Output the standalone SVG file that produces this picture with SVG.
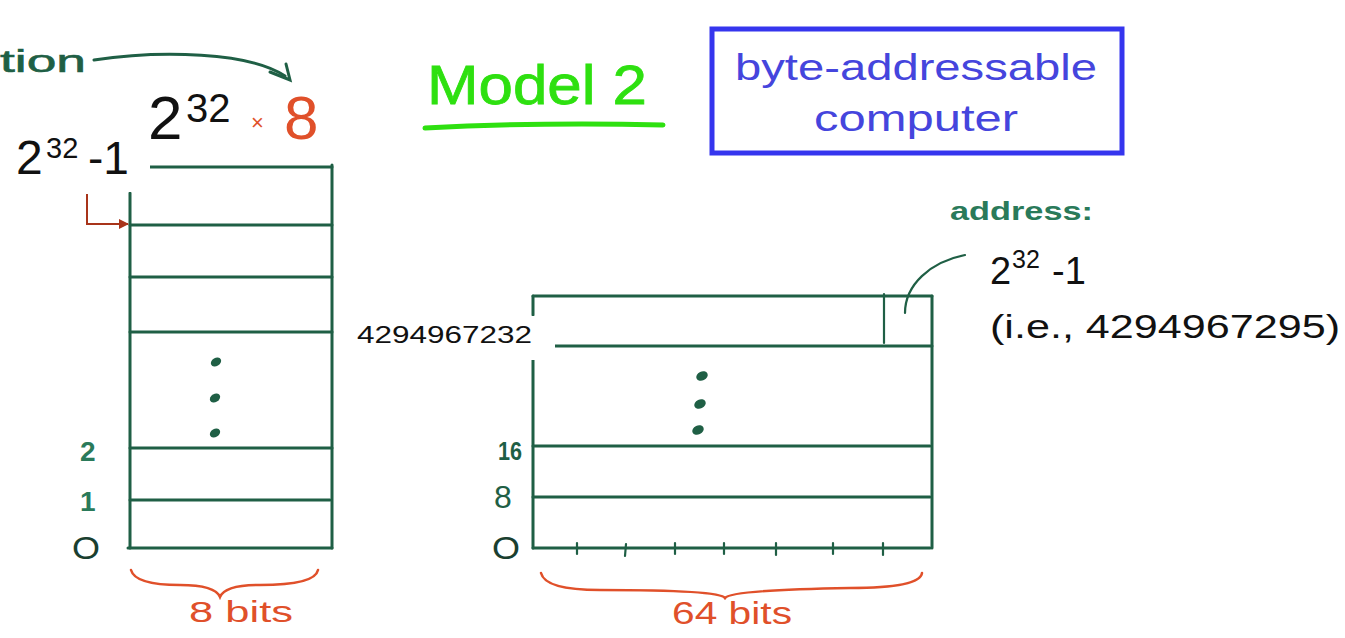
<svg xmlns="http://www.w3.org/2000/svg" width="1345" height="638" viewBox="0 0 1345 638">
  <style>
    .ink { stroke: #1f5f45; stroke-width: 3; fill: none; stroke-linecap: round; }
    .thin { stroke: #1f5f45; stroke-width: 2.2; fill: none; stroke-linecap: round; }
    .red { stroke: #e0502a; stroke-width: 2.5; fill: none; stroke-linecap: round; }
    .hand { font-family: "Liberation Sans", "DejaVu Sans", sans-serif; }
    .lbl { font-family: "Liberation Sans", "DejaVu Sans", sans-serif; fill: #111; }
    .dot { fill: #1f5f45; }
  </style>
  <defs>
    <marker id="redHead" markerWidth="10" markerHeight="10" refX="9" refY="5" orient="auto" markerUnits="userSpaceOnUse">
      <path d="M0,0 L10,5 L0,10 z" fill="#a8341a"/>
    </marker>
  </defs>
  <rect width="1345" height="638" fill="#ffffff"/>

  <!-- title -->
  <g id="title">
    <text x="427" y="104" class="hand" font-size="56" fill="#2ee010" stroke="#2ee010" stroke-width="0.8" textLength="220" lengthAdjust="spacingAndGlyphs">Model 2</text>
    <path d="M425,128 Q540,122 663,125" stroke="#2ee010" stroke-width="5" fill="none" stroke-linecap="round"/>
  </g>

  <!-- boxed caption -->
  <g id="caption">
    <rect x="712" y="29" width="410" height="124" fill="none" stroke="#3535ee" stroke-width="5"/>
    <text x="916" y="80" text-anchor="middle" class="hand" font-size="37" fill="#4545dd" textLength="362" lengthAdjust="spacingAndGlyphs">byte-addressable</text>
    <text x="916" y="131" text-anchor="middle" class="hand" font-size="37" fill="#4545dd" textLength="204" lengthAdjust="spacingAndGlyphs">computer</text>
  </g>

  <!-- handwritten note with curved arrow at the top left -->
  <g id="note">
    <text x="0" y="72" class="hand" font-size="32" fill="#1f5f45" stroke="#1f5f45" stroke-width="0.6" textLength="86" lengthAdjust="spacingAndGlyphs">tion</text>
    <path d="M94,60 C160,50 250,52 285,76" class="ink" stroke-width="3.5"/>
    <path d="M270,72 L290,80 L286,64" class="ink" stroke-width="3.5"/>
  </g>

  <!-- size label 2^32 x 8 -->
  <g id="size">
    <text x="148" y="139" class="lbl" font-size="62">2</text>
    <text x="186" y="122" class="lbl" font-size="40">32</text>
    <text x="251" y="130" class="hand" font-size="22" fill="#e0502a">×</text>
    <text x="284" y="139" class="hand" font-size="62" fill="#e0502a">8</text>
  </g>

  <!-- left memory: one byte per row -->
  <g id="left-memory">
    <line x1="130" y1="193" x2="130" y2="548" class="ink"/>
    <line x1="332" y1="165" x2="332" y2="548" class="ink"/>
    <line x1="150" y1="167" x2="332" y2="167" class="ink"/>
    <line x1="130" y1="225" x2="332" y2="225" class="ink"/>
    <line x1="130" y1="277" x2="332" y2="277" class="ink"/>
    <line x1="130" y1="332" x2="332" y2="332" class="ink"/>
    <line x1="130" y1="448" x2="332" y2="448" class="ink"/>
    <line x1="130" y1="500" x2="330" y2="500" class="ink"/>
    <line x1="128" y1="548" x2="332" y2="548" class="ink" stroke-width="3.5"/>
    <ellipse cx="216" cy="362" rx="5.5" ry="4" class="dot" transform="rotate(-30 216 362)"/>
    <ellipse cx="215" cy="398" rx="5.5" ry="4" class="dot" transform="rotate(-30 215 398)"/>
    <ellipse cx="215" cy="433" rx="5.5" ry="4" class="dot" transform="rotate(-30 215 433)"/>
    <text x="80" y="461" class="hand" font-size="28" font-weight="bold" fill="#2a7a5a">2</text>
    <text x="80" y="511" class="hand" font-size="28" font-weight="bold" fill="#2a7a5a">1</text>
    <text x="72" y="559" class="hand" font-size="32" fill="#1a3f30" textLength="28" lengthAdjust="spacingAndGlyphs">O</text>
    <path d="M131,570 Q135,585 180,585 Q215,585 220,597 Q225,585 260,585 Q315,585 318,570" class="red"/>
    <text x="189" y="622" class="hand" font-size="30" fill="#e0502a" textLength="104" lengthAdjust="spacingAndGlyphs">8 bits</text>
  </g>

  <!-- label 2^32 -1 for the top byte -->
  <g id="top-byte-label">
    <rect x="0" y="130" width="150" height="62" fill="#ffffff"/>
    <text x="16" y="174" class="lbl" font-size="48">2</text>
    <text x="46" y="158" class="lbl" font-size="29">32</text>
    <text x="88" y="174" class="lbl" font-size="46">-1</text>
  </g>

  <!-- pointer arrow to the next row -->
  <g id="connectors">
    <path d="M87,194 L87,224 L128,224" stroke="#a8341a" stroke-width="2" fill="none" marker-end="url(#redHead)"/>
    <path d="M905,313 C905,285 930,262 965,255" class="thin"/>
  </g>

  <!-- right memory: 64-bit words -->
  <g id="right-memory">
    <line x1="533" y1="296" x2="533" y2="315" class="ink"/>
    <line x1="533" y1="360" x2="533" y2="548" class="ink"/>
    <line x1="932" y1="296" x2="932" y2="548" class="ink"/>
    <line x1="533" y1="296" x2="932" y2="296" class="ink"/>
    <line x1="884" y1="294" x2="884" y2="343" class="thin"/>
    <line x1="555" y1="346" x2="932" y2="346" class="ink" stroke-width="3.5"/>
    <line x1="533" y1="446" x2="930" y2="446" class="ink"/>
    <line x1="533" y1="497" x2="930" y2="497" class="ink" stroke-width="3.5"/>
    <line x1="533" y1="548" x2="930" y2="548" class="ink"/>
    <g class="thin">
      <line x1="577" y1="543" x2="577" y2="554"/>
      <line x1="626" y1="544" x2="625" y2="556"/>
      <line x1="675" y1="543" x2="675" y2="554"/>
      <line x1="724" y1="543" x2="724" y2="554"/>
      <line x1="776" y1="543" x2="776" y2="555"/>
      <line x1="833" y1="543" x2="833" y2="554"/>
      <line x1="883" y1="543" x2="883" y2="555"/>
    </g>
    <ellipse cx="702" cy="376" rx="6" ry="4.5" class="dot" transform="rotate(-25 702 376)"/>
    <ellipse cx="700" cy="404" rx="6" ry="4.5" class="dot" transform="rotate(-25 700 404)"/>
    <ellipse cx="698" cy="430" rx="6" ry="4.5" class="dot" transform="rotate(-25 698 430)"/>
    <text x="498" y="460" class="hand" font-size="26" font-weight="bold" fill="#1f5f45" textLength="24" lengthAdjust="spacingAndGlyphs">16</text>
    <text x="494" y="508" class="hand" font-size="32" fill="#1f5f45">8</text>
    <text x="492" y="559" class="hand" font-size="32" fill="#1a3f30" textLength="28" lengthAdjust="spacingAndGlyphs">O</text>
    <path d="M541,573 Q545,590 600,590 Q720,590 725,598 Q730,590 850,588 Q920,588 922,573" class="red"/>
    <text x="672" y="624" class="hand" font-size="32" fill="#e0502a" textLength="120" lengthAdjust="spacingAndGlyphs">64 bits</text>
  </g>

  <!-- label for the first byte of the top word -->
  <g id="word-label">
    <rect x="345" y="316" width="210" height="44" fill="#ffffff"/>
    <text x="357" y="343" class="lbl" font-size="23" textLength="175" lengthAdjust="spacingAndGlyphs">4294967232</text>
  </g>

  <!-- address annotation -->
  <g id="address">
    <text x="950" y="220" class="hand" font-size="26" font-weight="bold" fill="#2a7a5a" textLength="143" lengthAdjust="spacingAndGlyphs">address:</text>
    <text x="990" y="284" class="lbl" font-size="38">2</text>
    <text x="1012" y="268" class="lbl" font-size="25">32</text>
    <text x="1052" y="284" class="lbl" font-size="38">-1</text>
    <text x="990" y="338" class="lbl" font-size="34" textLength="350" lengthAdjust="spacingAndGlyphs">(i.e., 4294967295)</text>
  </g>
</svg>
